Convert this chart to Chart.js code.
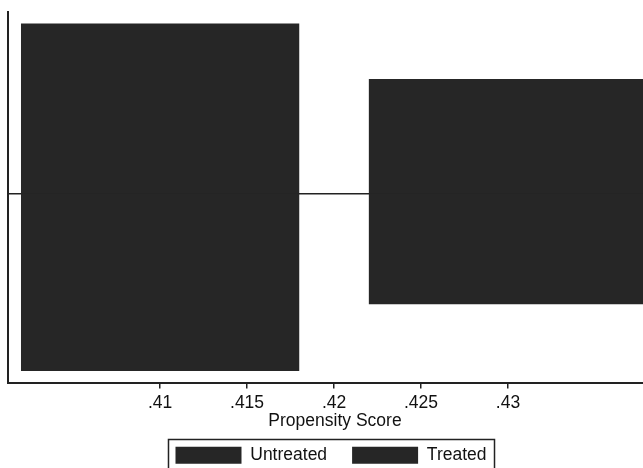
<!DOCTYPE html>
<html>
<head>
<meta charset="utf-8">
<script src="https://cdn.jsdelivr.net/npm/chart.js@4.4.0/dist/chart.umd.min.js"></script>
<style>
  html, body { margin: 0; padding: 0; background: #fff; overflow: hidden; }
</style>
</head>
<body>
<canvas id="psChart" width="670" height="480"></canvas>
<script>
// histogram bins (propensity score), fractions per group
var binStart = [0.402, 0.422];
var binEnd = [0.418, 0.438];
var untreated = [0.6, 0.405];
var treated = [0.625, 0.39];   // drawn below zero
var tickValues = [0.41, 0.415, 0.42, 0.425, 0.43];
var tickLabels = ['.41', '.415', '.42', '.425', '.43'];

function histPoints(heights, sign) {
  var pts = [];
  for (var i = 0; i < heights.length; i++) {
    pts.push({x: binStart[i], y: 0});
    pts.push({x: binStart[i], y: sign * heights[i]});
    pts.push({x: binEnd[i], y: sign * heights[i]});
    pts.push({x: binEnd[i], y: 0});
  }
  return pts;
}

var ink = '#262626';
var txt = '#111111';
var font = {family: '"Liberation Sans", Arial, sans-serif', size: 17.5};

var legendBorder = {
  id: 'legendBorder',
  afterDraw: function (chart) {
    var boxes = chart.legend.legendHitBoxes;
    if (!boxes || !boxes.length) return;
    var last = boxes[boxes.length - 1];
    var left = boxes[0].left - 7;
    var top = boxes[0].top - 7;
    var right = last.left + last.width + 8;
    var ctx = chart.ctx;
    ctx.save();
    ctx.strokeStyle = '#222';
    ctx.lineWidth = 1.5;
    ctx.strokeRect(left, top, right - left, chart.height + 10 - top);
    ctx.restore();
  }
};

var psChart = new Chart(document.getElementById('psChart'), {
  type: 'line',
  data: {
    datasets: [{
      label: 'Untreated',
      data: histPoints(untreated, 1),
      backgroundColor: ink,
      borderColor: ink,
      borderWidth: 0,
      pointRadius: 0,
      fill: 'origin',
      tension: 0
    }, {
      label: 'Treated',
      data: histPoints(treated, -1),
      backgroundColor: ink,
      borderColor: ink,
      borderWidth: 0,
      pointRadius: 0,
      fill: 'origin',
      tension: 0
    }]
  },
  options: {
    responsive: false,
    animation: false,
    devicePixelRatio: 1,
    layout: {padding: {top: 12, left: 0, right: 8, bottom: 6}},
    plugins: {
      tooltip: {enabled: false},
      legend: {
        position: 'bottom',
        labels: {
          boxWidth: 66,
          boxHeight: 17,
          padding: 25,
          color: txt,
          font: font
        }
      }
    },
    scales: {
      x: {
        type: 'linear',
        min: 0.40126,
        max: 0.43885,
        afterBuildTicks: function (scale) {
          scale.ticks = tickValues.map(function (v) { return {value: v}; });
        },
        afterFit: function (scale) { scale.height = 39; },
        ticks: {
          color: txt,
          font: font,
          padding: 4,
          maxRotation: 0,
          autoSkip: false,
          callback: function (value, index) { return tickLabels[index]; }
        },
        grid: {
          drawOnChartArea: false,
          drawTicks: true,
          tickLength: 6,
          color: '#222',
          lineWidth: 1.5
        },
        border: {display: true, color: '#222', width: 2},
        title: {
          display: true,
          text: 'Propensity Score',
          color: txt,
          font: font,
          padding: {top: 0, bottom: -10}
        }
      },
      y: {
        min: -0.6655,
        max: 0.6408,
        afterBuildTicks: function (scale) { scale.ticks = [{value: 0}]; },
        afterFit: function (scale) { scale.width = 8; },
        ticks: {display: false},
        grid: {
          drawTicks: false,
          color: '#222',
          lineWidth: 1.5
        },
        border: {display: true, color: '#222', width: 2}
      }
    }
  },
  plugins: [legendBorder]
});
</script>
</body>
</html>
